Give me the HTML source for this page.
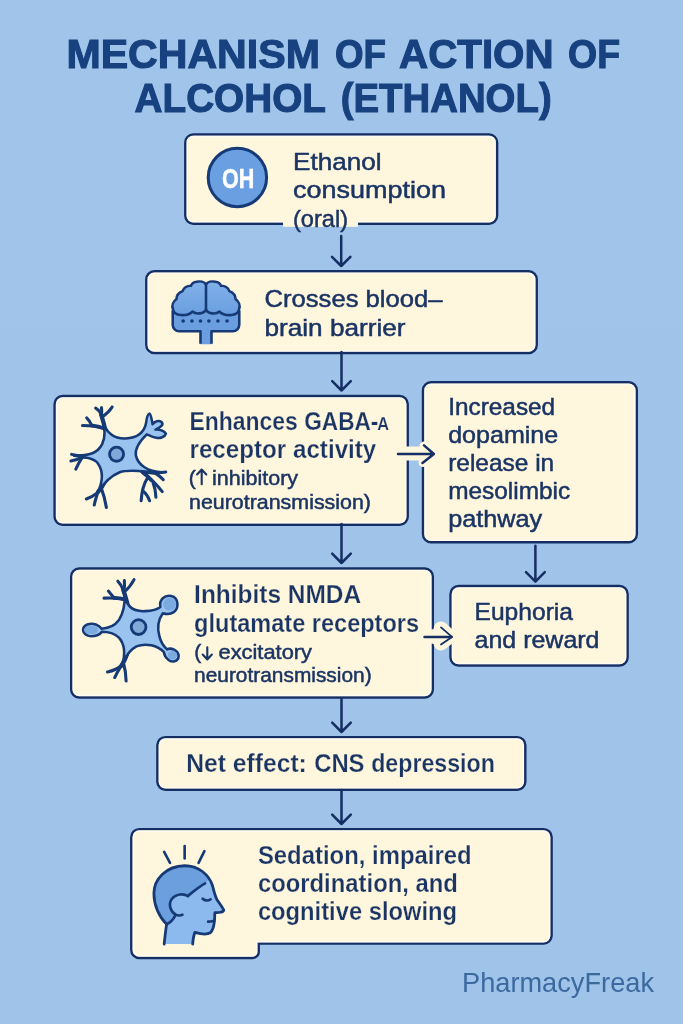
<!DOCTYPE html>
<html>
<head>
<meta charset="utf-8">
<title>Mechanism of Action of Alcohol (Ethanol)</title>
<style>
  html, body { margin: 0; padding: 0; background: #a0c4e9; }
  body { width: 683px; height: 1024px; overflow: hidden; font-family: "Liberation Sans", sans-serif; }
  svg { display: block; filter: blur(0.45px); }
  text { font-family: "Liberation Sans", sans-serif; fill: #1a3464; }
  .b { font-weight: bold; }
  #title text { fill: #17417f; stroke: #17417f; stroke-width: 1.1px; }
  .sb { font-weight: bold; stroke: #fef6dd; stroke-width: 0.25px; }
  .s2 { stroke: #1a3464; stroke-width: 0.5px; }
  .m { stroke: #1a3464; stroke-width: 0.5px; }
  .box { fill: #fef6dd; stroke: #152f64; stroke-width: 2.45; }
  .inr { fill: none; stroke: #ffffff; stroke-opacity: 0.55; stroke-width: 1.6; }
  .ar { fill: none; stroke: #152f64; stroke-width: 2.5; stroke-linecap: round; stroke-linejoin: round; }
  .halo { fill: none; stroke: #fef6dd; stroke-width: 9; stroke-linecap: round; stroke-linejoin: round; }
  .ga { fill: none; stroke: #1a3464; stroke-width: 2.1; stroke-linecap: round; stroke-linejoin: round; }
  .ic { fill: none; stroke: #173a74; stroke-width: 2.6; stroke-linecap: round; stroke-linejoin: round; }
</style>
</head>
<body>
<svg width="683" height="1024" viewBox="0 0 683 1024">
  <defs>
    <linearGradient id="bg" x1="0" y1="0" x2="0" y2="1">
      <stop offset="0" stop-color="#a1c5ea"/>
      <stop offset="1" stop-color="#9fc3e9"/>
    </linearGradient>
    <linearGradient id="brainG" x1="0" y1="0" x2="0" y2="1">
      <stop offset="0" stop-color="#82b1ea"/>
      <stop offset="1" stop-color="#6a9ee0"/>
    </linearGradient>
  </defs>
  <rect x="0" y="0" width="683" height="1024" fill="url(#bg)"/>

  <!-- TITLE -->
  <g id="title" class="b" font-size="41">
    <text x="66.4" y="67.9" textLength="253.5" lengthAdjust="spacingAndGlyphs">MECHANISM</text>
    <text x="335" y="67.9" textLength="51" lengthAdjust="spacingAndGlyphs">OF</text>
    <text x="399" y="67.9" textLength="154.6" lengthAdjust="spacingAndGlyphs">ACTION</text>
    <text x="568" y="67.9" textLength="52" lengthAdjust="spacingAndGlyphs">OF</text>
    <text x="134.5" y="112" textLength="191.5" lengthAdjust="spacingAndGlyphs">ALCOHOL</text>
    <text x="340.7" y="112" textLength="211" lengthAdjust="spacingAndGlyphs">(ETHANOL)</text>
  </g>

  <!-- BOXES -->
  <g id="boxes">
    <rect class="box" x="185.3" y="134.4" width="311.8" height="89.4" rx="8"/>
    <rect class="box" x="146.3" y="271.3" width="390.4" height="81.7" rx="8"/>
    <rect class="box" x="54.6" y="396" width="353.1" height="128.8" rx="8"/>
    <rect class="box" x="423" y="382.2" width="213.8" height="160.1" rx="8"/>
    <rect class="box" x="71.2" y="568.5" width="361.6" height="129" rx="8"/>
    <rect class="box" x="450.5" y="586" width="177.1" height="79.5" rx="8"/>
    <rect class="box" x="157.4" y="737.1" width="367.9" height="52.7" rx="8"/>
    <path class="box" d="M139.3,829.1 H543.6 a8,8 0 0 1 8,8 V935.6 a8,8 0 0 1 -8,8 H258.7 V951.9 a6,6 0 0 1 -6,6 H139.3 a8,8 0 0 1 -8,-8 V837.1 a8,8 0 0 1 8,-8 Z"/>
      <rect class="inr" x="187.3" y="136.4" width="307.8" height="85.4" rx="6"/>
    <rect class="inr" x="148.3" y="273.3" width="386.4" height="77.7" rx="6"/>
    <rect class="inr" x="56.6" y="398" width="349.1" height="124.8" rx="6"/>
    <rect class="inr" x="425" y="384.2" width="209.8" height="156.1" rx="6"/>
    <rect class="inr" x="73.2" y="570.5" width="357.6" height="125" rx="6"/>
    <rect class="inr" x="452.5" y="588" width="173.1" height="75.5" rx="6"/>
    <rect class="inr" x="159.4" y="739.1" width="363.9" height="48.7" rx="6"/>
    <path class="inr" d="M139.3,831.1 H543.6 a6,6 0 0 1 6,6 V935.6 a6,6 0 0 1 -6,6 H256.7 V951.9 a4,4 0 0 1 -4,4 H139.3 a6,6 0 0 1 -6,-6 V837.1 a6,6 0 0 1 6,-6 Z"/>
  </g>

  <!-- (oral) cream patch over border -->
  <rect x="283" y="214" width="75" height="12.8" fill="#fef6dd"/>

  <!-- ARROWS -->
  <g id="arrows">
    <path class="ar" d="M341.2,236 V266 M332,256.8 L341.2,266 L350.4,256.8"/>
    <path class="ar" d="M341.5,352 V390.5 M332.2,381.2 L341.5,390.5 L350.8,381.2"/>
    <path class="ar" d="M341.5,524 V563 M332.2,553.7 L341.5,563 L350.8,553.7"/>
    <path class="ar" d="M341.5,699 V732 M332.2,722.7 L341.5,732 L350.8,722.7"/>
    <path class="ar" d="M341.5,790 V824 M332.2,814.7 L341.5,824 L350.8,814.7"/>
    <path class="ar" d="M535.4,545.8 V581.6 M526,572.2 L535.4,581.6 L544.8,572.2"/>
    <!-- horizontal arrows with cream halo -->
    <path class="halo" style="stroke-width:14" d="M404,453.6 H424"/>
    <path class="halo" d="M424,446 L433,454 L423,462.5"/>
    <path class="ar" d="M398,454 H433.5 M424,445.4 L433.9,454 L422.5,463"/>
    <path class="halo" style="stroke-width:15" d="M434,636.5 H447 M441,629 L449,636.5 L441,643"/>
    <path class="ar" d="M424.5,636.9 H451.5"/>
    <path class="ar" style="stroke-width:1.8" d="M441,627.4 L452,636.9 L441,644.6"/>
  </g>

  <!-- ICONS -->
  <g id="icon-oh">
    <circle cx="237.4" cy="177.5" r="29.2" fill="#6a9fe1" stroke="#153a76" stroke-width="3"/>
    <text class="b" x="222" y="188.4" font-size="28.5" textLength="32.3" lengthAdjust="spacingAndGlyphs" style="fill:#ffffff;stroke:#ffffff;stroke-width:0.5px">OH</text>
  </g>

  <g id="icon-brain" transform="translate(165,275) scale(0.11713)">
    <!-- base + stem -->
    <path d="M66,300 V425 a55,55 0 0 0 55,55 H303 V592 H397 V480 H579 a55,55 0 0 0 55,-55 V300 Z" fill="#6a9ee0"/>
    <path d="M66,300 V425 a55,55 0 0 0 55,55 H303 V588 M397,588 V480 H579 a55,55 0 0 0 55,-55 V300" fill="none" stroke="#153a76" stroke-width="22" stroke-linejoin="round" stroke-linecap="butt"/>
    <!-- lobes -->
    <path d="M350,80 C335,58 300,50 270,58 C245,60 228,75 222,92 C190,90 160,110 150,138 C120,150 98,175 98,205 C70,225 55,260 68,292 C70,318 95,340 135,342 C170,344 215,335 235,312 C255,330 290,332 320,322 C335,316 345,308 350,298 C355,308 365,316 380,322 C410,332 445,330 465,312 C485,335 530,344 565,342 C605,340 630,318 632,292 C645,260 630,225 602,205 C602,175 580,150 550,138 C540,110 510,90 478,92 C472,75 455,60 430,58 C400,50 365,58 350,80 Z" fill="url(#brainG)" stroke="#153a76" stroke-width="22" stroke-linejoin="round"/>
    <path d="M350,80 V300" fill="none" stroke="#153a76" stroke-width="22" stroke-linecap="round"/>
    <g fill="#153a76">
      <circle cx="155" cy="393" r="15.5"/><circle cx="230" cy="393" r="15.5"/><circle cx="303" cy="393" r="15.5"/>
      <circle cx="375" cy="393" r="15.5"/><circle cx="452" cy="393" r="15.5"/><circle cx="530" cy="393" r="15.5"/>
    </g>
  </g>

  <!-- neuron 1 : drawn in zoom coords (scale 1/5.692, origin 60,395) -->
  <g id="icon-neuron1" transform="translate(60,395) scale(0.17568)">
    <g fill="none" stroke="#153a76" stroke-width="17.5" stroke-linecap="round" stroke-linejoin="round">
      <path stroke-width="24" d="M258,200 C250,160 240,130 234,110 M190,350 C165,352 140,352 120,350 M450,425 C480,435 510,440 535,442 M262,480 C248,510 232,535 216,553"/>
      <path stroke-width="21" d="M250,190 C225,180 205,176 185,174 M470,440 C490,455 505,468 520,485"/>
      <!-- top-left dendrites -->
      <path d="M258,200 C250,160 240,130 232,105 C225,90 215,80 203,74"/>
      <path d="M240,125 C262,110 282,92 297,68"/>
      <path d="M236,112 C238,95 238,85 236,72"/>
      <path d="M250,190 C215,178 170,175 128,174"/>
      <path d="M180,172 C172,155 165,142 152,130"/>
      <!-- left dendrites -->
      <path d="M190,350 C150,352 105,348 66,338"/>
      <path d="M130,352 C105,365 85,372 62,376"/>
      <path d="M125,358 C110,380 100,400 90,422"/>
      <!-- lower-right dendrites -->
      <path d="M450,425 C500,440 550,445 602,438"/>
      <path d="M540,443 C560,455 575,468 588,482"/>
      <path d="M470,440 C510,470 550,510 582,550"/>
      <path d="M500,468 C480,500 465,540 462,602"/>
      <path d="M470,545 C490,560 502,580 510,602"/>
      <path d="M530,500 C540,525 545,550 546,582"/>
      <!-- lower-left dendrites -->
      <path d="M262,480 C245,515 228,540 208,560 C190,575 170,585 150,592"/>
      <path d="M215,553 C208,580 200,600 195,626"/>
      <path d="M235,530 C248,565 258,600 264,640"/>
    </g>
    <!-- body -->
    <path d="M240,128 C255,225 320,250 372,248 C430,246 478,220 490,160 C493,135 500,108 508,106 C518,106 522,140 527,166 C540,150 562,142 576,152 C592,166 580,182 543,197 C565,196 592,205 603,220 C598,238 570,248 548,244 C525,240 508,228 494,224 C455,262 424,300 432,345 C445,400 500,435 580,440 C500,442 400,418 340,440 C290,460 250,500 214,556 C250,480 245,430 215,388 C195,362 150,352 80,346 C170,345 215,330 240,280 C262,235 252,170 240,128 Z" fill="#9ac3ef" stroke="#153a76" stroke-width="14.5" stroke-linejoin="round"/>
    <circle cx="322" cy="337" r="40" fill="#80a8d8" stroke="#153a76" stroke-width="16"/>
  </g>

  <!-- neuron 2 : zoom coords (scale 1/5.692, origin 75,570) -->
  <g id="icon-neuron2" transform="translate(75,570) scale(0.17568)">
    <g fill="none" stroke="#153a76" stroke-width="17.5" stroke-linecap="round" stroke-linejoin="round">
      <path stroke-width="24" d="M298,190 C290,160 282,135 275,114 M300,470 C290,500 278,525 264,545"/>
      <path stroke-width="21" d="M290,170 C265,162 245,159 225,159"/>
      <!-- top dendrites -->
      <path d="M298,190 C290,160 282,135 272,108 C265,90 255,76 244,64"/>
      <path d="M278,120 C282,100 283,82 281,60"/>
      <path d="M280,125 C305,105 322,82 336,55"/>
      <path d="M290,170 C250,158 210,158 165,160"/>
      <path d="M222,158 C212,145 200,132 190,120"/>
      <!-- lower-left dendrites -->
      <path d="M300,470 C290,500 278,525 262,545 C240,565 212,575 185,580"/>
      <path d="M262,548 C248,570 236,590 226,612"/>
      <path d="M275,525 C285,560 290,595 291,632"/>
    </g>
    <!-- body with three bulbs -->
    <path d="M284,135 C290,215 340,238 400,234 C440,232 466,226 486,210 C478,170 510,140 548,148 C590,158 594,215 562,240 C542,254 518,252 500,246 C472,285 468,330 480,375 C488,412 502,432 524,452 C545,440 588,455 590,490 C588,522 550,530 530,510 C514,496 508,482 506,468 C470,428 400,415 350,435 C310,455 285,495 268,540 C290,470 280,420 250,385 C225,362 190,352 152,352 C140,374 100,384 70,372 C38,356 38,324 70,310 C105,298 137,314 152,334 C190,332 225,320 250,285 C275,245 285,190 284,135 Z" fill="#9ac3ef" stroke="#153a76" stroke-width="14.5" stroke-linejoin="round"/>
    <ellipse cx="538" cy="195" rx="36" ry="36" fill="#7aaae0"/>
    <ellipse cx="92" cy="341" rx="40" ry="24" fill="#7aaae0"/>
    <ellipse cx="555" cy="485" rx="26" ry="24" fill="#7aaae0"/>
    <circle cx="362" cy="325" r="42" fill="#80a8d8" stroke="#153a76" stroke-width="16"/>
  </g>

  <!-- head : zoom coords (scale 1/6.83, origin 140,835) -->
  <g id="icon-head" transform="translate(140,835) scale(0.14641)">
    <!-- face/neck base -->
    <path d="M165,745 C170,700 175,650 182,610 C130,560 95,480 95,400 C95,300 180,212 305,210 C400,210 470,270 495,345 C505,385 510,410 525,440 C545,470 565,495 572,512 C570,528 535,532 512,530 C508,550 512,570 508,590 C505,620 500,650 480,668 C450,685 410,675 375,665 C365,690 362,715 360,745 Z" fill="#8cbaee"/>
    <!-- hair -->
    <path d="M182,610 C130,560 95,480 95,400 C95,300 180,212 305,210 C385,210 440,250 470,300 L445,330 C405,352 365,385 328,415 C300,400 245,400 215,440 C190,480 215,525 240,550 C225,580 205,598 182,610 Z" fill="#6b9fde"/>
    <!-- outline -->
    <path d="M165,745 C170,700 175,650 182,610 C130,560 95,480 95,400 C95,300 180,212 305,210 C400,210 470,270 495,345 C505,385 510,410 525,440 C545,470 565,495 572,512 C570,528 535,532 512,530 C508,550 512,570 508,590 C505,620 500,650 480,668 C450,685 410,675 375,665 C365,690 362,715 360,745" fill="none" stroke="#153a76" stroke-width="19" stroke-linecap="round" stroke-linejoin="round"/>
    <g fill="none" stroke="#153a76" stroke-width="18" stroke-linecap="round" stroke-linejoin="round">
      <path d="M445,330 C405,352 365,385 328,415"/>
      <path d="M328,418 C300,398 245,400 215,440 C190,480 215,530 245,545 C262,552 278,550 290,545"/>
      <path d="M240,552 C225,580 205,598 185,608"/>
      <path d="M428,435 C445,450 465,450 482,440"/>
      <path d="M465,592 C478,592 490,590 505,585"/>
      <path d="M165,115 L205,190"/>
      <path d="M305,75 L305,160"/>
      <path d="M440,110 L400,190"/>
    </g>
  </g>

  <!-- TEXT -->
  <g id="text">
    <text class="m" x="293" y="170" font-size="24.5" textLength="88.5" lengthAdjust="spacingAndGlyphs">Ethanol</text>
    <text class="m" x="293" y="198" font-size="24.5" textLength="153" lengthAdjust="spacingAndGlyphs">consumption</text>
    <text class="m" x="293" y="227" font-size="24.5" textLength="55" lengthAdjust="spacingAndGlyphs">(oral)</text>

    <text class="m" x="264.5" y="306.5" font-size="24.5" textLength="178" lengthAdjust="spacingAndGlyphs">Crosses blood–</text>
    <text class="m" x="264.5" y="335.5" font-size="24.5" textLength="141" lengthAdjust="spacingAndGlyphs">brain barrier</text>

    <text class="sb" x="189.5" y="430.2" font-size="25" textLength="108.3" lengthAdjust="spacingAndGlyphs">Enhances</text>
    <text class="sb" x="304.2" y="430.2" font-size="25" textLength="74.2" lengthAdjust="spacingAndGlyphs">GABA-</text>
    <text class="sb" x="377.3" y="430.4" font-size="17.6" textLength="11.8" lengthAdjust="spacingAndGlyphs">A</text>
    <text class="sb" x="189.5" y="458.3" font-size="25" textLength="186.8" lengthAdjust="spacingAndGlyphs">receptor activity</text>
    <text class="s2" x="188.8" y="484.7" font-size="21">(</text>
    <path class="ga" d="M201.7,484.2 V469.8 M197.1,474.4 L201.7,469.6 L206.3,474.4"/>
    <text class="s2" x="212.1" y="484.7" font-size="21" textLength="86" lengthAdjust="spacingAndGlyphs">inhibitory</text>
    <text class="s2" x="189" y="509.2" font-size="21" textLength="182" lengthAdjust="spacingAndGlyphs">neurotransmission)</text>

    <text class="m" x="448.2" y="414.8" font-size="24.5" textLength="107" lengthAdjust="spacingAndGlyphs">Increased</text>
    <text class="m" x="448.2" y="442.6" font-size="24.5" textLength="110" lengthAdjust="spacingAndGlyphs">dopamine</text>
    <text class="m" x="448.2" y="470.6" font-size="24.5" textLength="106" lengthAdjust="spacingAndGlyphs">release in</text>
    <text class="m" x="448.2" y="498.6" font-size="24.5" textLength="122" lengthAdjust="spacingAndGlyphs">mesolimbic</text>
    <text class="m" x="448.2" y="526.6" font-size="24.5" textLength="94" lengthAdjust="spacingAndGlyphs">pathway</text>

    <text class="sb" x="194.1" y="603.1" font-size="25" textLength="167" lengthAdjust="spacingAndGlyphs">Inhibits NMDA</text>
    <text class="sb" x="194.1" y="632" font-size="25" textLength="225" lengthAdjust="spacingAndGlyphs">glutamate receptors</text>
    <text class="s2" x="194.3" y="658.5" font-size="21">(</text>
    <path class="ga" d="M207.3,647.2 V659.2 M202.7,654.6 L207.3,659.4 L211.9,654.6"/>
    <text class="s2" x="218.5" y="658.5" font-size="21" textLength="93.5" lengthAdjust="spacingAndGlyphs">excitatory</text>
    <text class="s2" x="194.1" y="682" font-size="21" textLength="177.5" lengthAdjust="spacingAndGlyphs">neurotransmission)</text>

    <text class="m" x="474.5" y="620.3" font-size="24.5" textLength="98.5" lengthAdjust="spacingAndGlyphs">Euphoria</text>
    <text class="m" x="474.5" y="647.5" font-size="24.5" textLength="125" lengthAdjust="spacingAndGlyphs">and reward</text>

    <text class="sb" x="186.3" y="771.6" font-size="26.4" textLength="120.5" lengthAdjust="spacingAndGlyphs">Net effect:</text>
    <text class="sb" x="314.2" y="771.6" font-size="26.4" textLength="50.3" lengthAdjust="spacingAndGlyphs">CNS</text>
    <text class="sb" x="371.2" y="771.6" font-size="26.4" textLength="123.6" lengthAdjust="spacingAndGlyphs">depression</text>

    <text class="sb" x="257.9" y="863.7" font-size="25.7" textLength="213.7" lengthAdjust="spacingAndGlyphs">Sedation, impaired</text>
    <text class="sb" x="257.9" y="891.8" font-size="25.7" textLength="200" lengthAdjust="spacingAndGlyphs">coordination, and</text>
    <text class="sb" x="257.9" y="919.9" font-size="25.7" textLength="199.2" lengthAdjust="spacingAndGlyphs">cognitive slowing</text>

    <text x="462" y="992.3" font-size="28.5" textLength="192" lengthAdjust="spacingAndGlyphs" style="fill:#3c6a9f">PharmacyFreak</text>
  </g>
</svg>
</body>
</html>
